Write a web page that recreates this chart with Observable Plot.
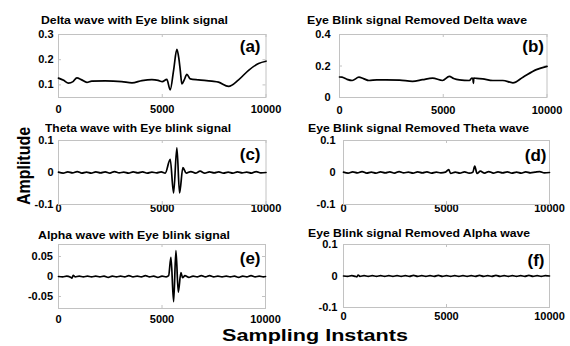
<!DOCTYPE html>
<html>
<head>
<meta charset="utf-8">
<script src="https://cdn.jsdelivr.net/npm/d3@7"></script>
<script src="https://cdn.jsdelivr.net/npm/@observablehq/plot@0.6"></script>
<style>
  html, body { margin: 0; padding: 0; background: #fff; }
  #chart { position: relative; width: 570px; height: 346px; overflow: hidden; background: #fff;
           font-family: "Liberation Sans", Arial, Helvetica, sans-serif; }
  .pnl { position: absolute; }
  .ttl { position: absolute; white-space: nowrap; font-weight: bold; font-size: 10.5px; line-height: 12px;
         transform-origin: 0 50%; color: #000; }
  .big { position: absolute; white-space: nowrap; font-weight: bold; color: #000; line-height: 1; }
</style>
</head>
<body>
<div id="chart"></div>
<script>
// ---------- data (sample index, amplitude) ----------
const titles = [
  "Delta wave with Eye blink signal",
  "Eye Blink signal Removed Delta wave",
  "Theta wave with Eye blink signal",
  "Eye Blink signal Removed Theta wave",
  "Alpha wave with Eye blink signal",
  "Eye Blink signal Removed Alpha wave"
];
const panelLabels = ["(a)", "(b)", "(c)", "(d)", "(e)", "(f)"];
const xLabel = "Sampling Instants";
const yLabel = "Amplitude";

const xTicks = [0, 5000, 10000];
const yTicksA = [0.1, 0.2, 0.3];
const yTicksB = [0, 0.2, 0.4];
const yTicksC = [-0.1, 0, 0.1];
const yTicksD = [-0.1, 0, 0.1];
const yTicksE = [-0.05, 0, 0.05];
const yTicksF = [-0.1, 0, 0.1];

const deltaWithBlink = [
  [0,0.127],[250,0.118],[480,0.107],[700,0.113],[885,0.128],[1100,0.121],[1370,0.110],[1600,0.115],
  [2250,0.116],[3050,0.113],[3540,0.108],[4020,0.117],[4500,0.121],[4800,0.118],[5000,0.113],[5220,0.122],
  [5383,0.080],[5550,0.160],[5705,0.241],[5800,0.205],[5866,0.160],[5946,0.104],[6060,0.120],[6187,0.142],
  [6348,0.124],[6750,0.120],[7390,0.115],[7714,0.111],[8196,0.094],[8678,0.120],[9160,0.158],[9642,0.185],[10000,0.194]
];

const deltaRemoved = [
  [0,0.130],[120,0.129],[350,0.116],[613,0.108],[936,0.129],[1150,0.120],[1420,0.108],[1800,0.112],
  [2230,0.112],[2900,0.110],[3517,0.103],[4000,0.113],[4485,0.123],[4969,0.108],[5292,0.134],[5500,0.121],
  [5776,0.112],[6260,0.108],[6380,0.123],[6430,0.118],[6454,0.090],[6470,0.123],[6600,0.122],[6905,0.118],
  [7389,0.108],[7873,0.108],[8357,0.093],[8841,0.129],[9487,0.177],[10000,0.198]
];

const thetaWithBlink = [
  [0,0.001],[225,-0.002],[450,0.002],[675,-0.001],[900,0.003],[1125,-0.002],[1350,0.001],[1575,-0.002],
  [1800,0.002],[2025,-0.001],[2250,0.002],[2475,-0.002],[2700,0.003],[2925,-0.001],[3150,0.001],[3375,-0.002],
  [3600,0.002],[3825,-0.001],[4050,0.002],[4275,-0.002],[4500,0.001],[4725,-0.001],[4950,0.002],
  [5143,-0.002],[5384,0.041],[5545,-0.064],[5705,0.077],[5834,-0.064],[5994,0.015],[6155,-0.002],
  [6380,0.003],[6600,-0.002],[6825,0.004],[7050,-0.002],[7275,0.002],[7500,-0.001],[7725,0.002],[7950,-0.002],
  [8175,0.001],[8400,-0.002],[8625,0.002],[8850,-0.001],[9075,0.001],[9300,-0.002],[9525,0.003],[9750,-0.001],[10000,0.000]
];

const thetaRemoved = [
  [0,0.001],[225,-0.002],[450,0.002],[675,-0.001],[900,0.003],[1125,-0.002],[1350,0.001],[1575,-0.002],
  [1800,0.002],[2025,-0.001],[2250,0.002],[2475,-0.002],[2700,0.003],[2925,-0.001],[3150,0.001],[3375,-0.002],
  [3600,0.002],[3825,-0.001],[4050,0.002],[4275,-0.002],[4500,0.001],[4725,-0.001],[4950,0.001],
  [5105,0.009],[5200,-0.003],[5425,0.001],[5650,-0.002],[5875,0.002],[6100,-0.002],[6280,0.001],[6370,0.020],
  [6482,-0.003],[6644,0.004],[6850,-0.002],[7050,0.003],[7275,-0.002],[7500,0.002],[7725,-0.001],[7950,0.002],
  [8175,-0.002],[8400,0.001],[8625,-0.002],[8850,0.002],[9075,-0.001],[9300,0.001],[9525,0.003],[9750,-0.001],[10000,0.000]
];

const alphaWithBlink = [
  [0,0.000],[200,-0.001],[400,0.001],[560,-0.001],[650,-0.004],[710,0.003],[800,-0.001],[1000,0.001],
  [1200,-0.001],[1400,0.001],[1600,-0.001],[1800,0.001],[2000,-0.001],[2200,0.001],[2400,-0.002],[2600,0.001],
  [2800,-0.001],[3000,0.001],[3200,-0.001],[3400,0.002],[3600,-0.001],[3800,0.001],[4000,-0.001],[4200,0.002],
  [4400,-0.001],[4600,0.001],[4800,-0.002],[5000,0.001],[5200,-0.001],[5320,0.002],
  [5432,0.048],[5561,-0.063],[5673,0.065],[5786,-0.039],[5914,0.010],[5994,-0.003],[6107,0.002],
  [6300,-0.002],[6500,0.001],[6700,-0.001],[6900,0.002],[7100,-0.001],[7300,0.002],[7500,-0.001],[7700,0.001],
  [7900,-0.001],[8100,0.001],[8300,-0.001],[8500,0.001],[8700,-0.002],[8900,0.001],[9100,-0.001],[9300,0.002],
  [9500,-0.001],[9700,0.001],[9900,-0.001],[10000,0.000]
];

const alphaRemoved = [
  [0,0.000],[200,-0.001],[400,0.001],[560,-0.001],[650,-0.003],[710,0.003],[800,-0.001],[1000,0.001],
  [1200,-0.001],[1400,0.001],[1600,-0.001],[1800,0.001],[2000,-0.001],[2200,0.001],[2400,-0.001],[2600,0.001],
  [2800,-0.001],[3000,0.001],[3200,-0.001],[3400,0.002],[3600,-0.001],[3800,0.001],[4000,-0.001],[4200,0.001],
  [4400,-0.001],[4600,0.002],[4800,-0.001],[5000,0.001],[5200,-0.001],[5400,0.001],[5600,-0.001],[5800,0.001],
  [6000,-0.001],[6200,0.001],[6400,-0.001],[6600,0.002],[6800,-0.001],[7000,0.001],[7200,-0.001],[7400,0.002],
  [7600,-0.001],[7800,0.001],[8000,-0.001],[8200,0.001],[8400,-0.001],[8600,0.001],[8800,-0.001],[9000,0.002],
  [9200,-0.001],[9400,0.001],[9600,-0.001],[9800,0.001],[10000,0.000]
];

// ---------- layout ----------
const FONT = '"Liberation Sans", Arial, Helvetica, sans-serif';
const FRAME = "#c2c2c2";
const panels = [
  {data: deltaWithBlink, yDomain: [0.05, 0.3], yTicks: yTicksA, box: [58, 34, 207.5, 63], xPad: 8, yPad: 5,  ldx: -5.5, ldy: 5, tx: 41,  ty: 20,  tw: 187},
  {data: deltaRemoved,   yDomain: [0, 0.4],    yTicks: yTicksB, box: [339, 34, 207.5, 63], xPad: 8.5, yPad: 9, ldx: -3,   ldy: 5, tx: 307, ty: 20,  tw: 220},
  {data: thetaWithBlink, yDomain: [-0.1, 0.1], yTicks: yTicksC, box: [58, 140, 207.5, 64], xPad: 0, yPad: 5, ldx: -5.5, ldy: 7, tx: 45,  ty: 128, tw: 186},
  {data: thetaRemoved,   yDomain: [-0.1, 0.1], yTicks: yTicksD, box: [343, 140, 206, 64],  xPad: 0, yPad: 8, ldx: -3,   ldy: 8, tx: 308, ty: 128, tw: 221},
  {data: alphaWithBlink, yDomain: [-0.08, 0.08], yTicks: yTicksE, box: [58, 244, 207, 64], xPad: 7, yPad: 5.5, ldx: -5,   ldy: 7, tx: 38,  ty: 235, tw: 192},
  {data: alphaRemoved,   yDomain: [-0.1, 0.1], yTicks: yTicksF, box: [343, 244, 206, 63],  xPad: 5, yPad: 6,   ldx: -5,   ldy: 9, tx: 308, ty: 233, tw: 222}
];

const chart = document.getElementById("chart");
const ML = 45, MR = 12, MT = 6, MB = 24;

panels.forEach((p, i) => {
  const [l, t, w, h] = p.box;
  const plot = Plot.plot({
    width: ML + w + MR,
    height: MT + h + MB,
    marginLeft: ML, marginRight: MR, marginTop: MT, marginBottom: MB,
    style: {fontFamily: FONT, fontSize: "11px", fontWeight: "bold", color: "#000", background: "transparent", overflow: "visible"},
    x: {domain: [0, 10000], ticks: xTicks, tickFormat: d => String(d), tickSize: 0, tickPadding: p.xPad, label: null},
    y: {domain: p.yDomain, ticks: p.yTicks, tickFormat: d => String(d), tickSize: 0, tickPadding: p.yPad, label: null},
    marks: [
      Plot.frame({stroke: FRAME}),
      Plot.ruleX(xTicks, {stroke: FRAME, insetTop: h - 3}),
      Plot.ruleX(xTicks, {stroke: FRAME, insetBottom: h - 3}),
      Plot.ruleY(p.yTicks, {stroke: FRAME, insetLeft: w - 3}),
      Plot.ruleY(p.yTicks, {stroke: FRAME, insetRight: w - 3}),
      Plot.line(p.data, {x: d => d[0], y: d => d[1], curve: "monotone-x", stroke: "#000", strokeWidth: 1.7}),
      Plot.text([panelLabels[i]], {frameAnchor: "top-right", textAnchor: "end", lineAnchor: "top",
        dx: p.ldx, dy: p.ldy, fontSize: 17, fontWeight: "bold", fill: "#000"})
    ]
  });
  const holder = document.createElement("div");
  holder.className = "pnl";
  holder.style.left = (l - ML) + "px";
  holder.style.top = (t - MT) + "px";
  holder.appendChild(plot);
  chart.appendChild(holder);

  const tt = document.createElement("div");
  tt.className = "ttl";
  tt.textContent = titles[i];
  tt.style.left = p.tx + "px";
  tt.style.top = (p.ty - 6) + "px";
  chart.appendChild(tt);
  const wNow = tt.getBoundingClientRect().width;
  tt.style.transform = `scaleX(${p.tw / wNow})`;
});

const yl = document.createElement("div");
yl.className = "big";
yl.textContent = yLabel;
yl.style.fontSize = "16px";
yl.style.left = "24px";
yl.style.top = "166px";
yl.style.transform = "translate(-50%,-50%) rotate(-90deg) scaleY(1.15)";
chart.appendChild(yl);

const xl = document.createElement("div");
xl.className = "big";
xl.textContent = xLabel;
xl.style.fontSize = "17px";
xl.style.left = "315px";
xl.style.top = "335px";
xl.style.transform = "translate(-50%,-50%) scaleX(1.27)";
chart.appendChild(xl);
</script>
</body>
</html>
